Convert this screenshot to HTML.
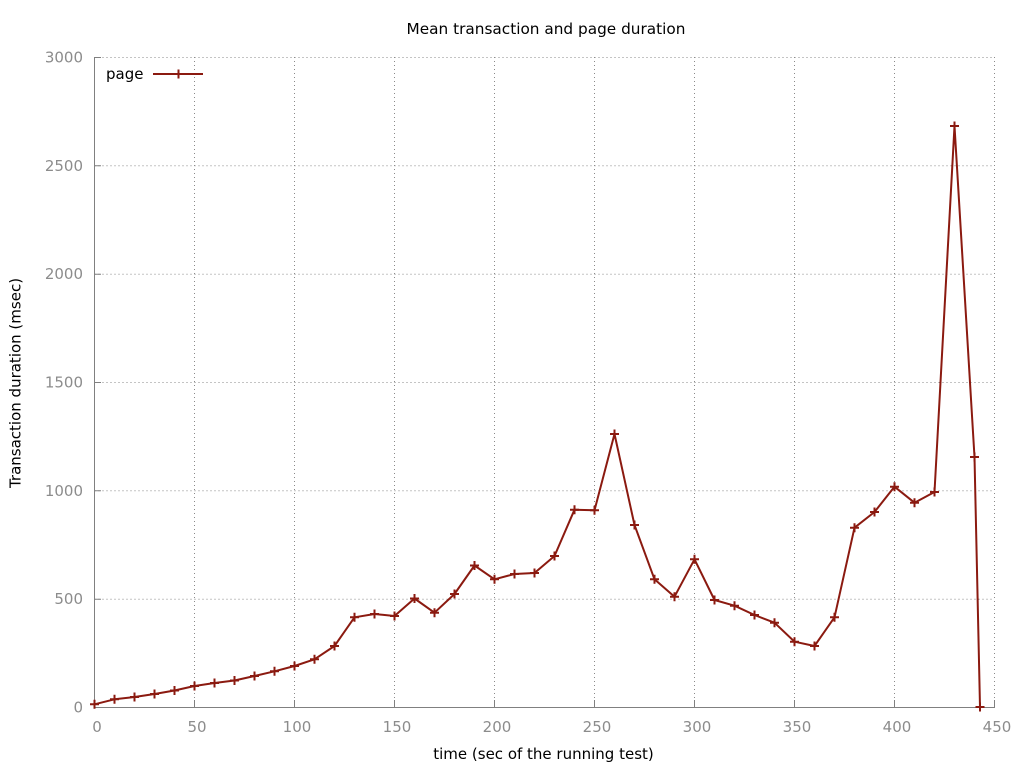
<!DOCTYPE html>
<html>
<head>
<meta charset="utf-8">
<style>
html,body{margin:0;padding:0;background:#fff;}
svg{display:block;}
text{font-family:"DejaVu Sans","Liberation Sans",sans-serif;}
</style>
</head>
<body>
<svg width="1024" height="768" viewBox="0 0 1024 768" xmlns="http://www.w3.org/2000/svg">
<defs>
<marker id="p" markerWidth="12" markerHeight="12" refX="6" refY="6" markerUnits="userSpaceOnUse" overflow="visible">
<path d="M1.5,6h9M6,1.5v9" stroke="#8b1a10" stroke-width="2" fill="none"/>
</marker>
</defs>
<rect width="1024" height="768" fill="#fff"/>
<path fill="none" stroke="#8a8a8a" stroke-width="1" stroke-dasharray="1,3" d="M94.5,57.5H994.5M94.5,165.8H994.5M94.5,274.2H994.5M94.5,382.5H994.5M94.5,490.8H994.5M94.5,599.2H994.5M194.5,57V707M294.5,57V707M394.5,57V707M494.5,57V707M594.5,57V707M694.5,57V707M794.5,57V707M894.5,57V707M994.5,57V707"/>
<path fill="none" stroke="#808080" stroke-width="1" d="M94.5,57V707.5M94,707.5H995M94.5,57.5H101M94.5,165.8H101M94.5,274.2H101M94.5,382.5H101M94.5,490.8H101M94.5,599.2H101M194.5,700V707M294.5,700V707M394.5,700V707M494.5,700V707M594.5,700V707M694.5,700V707M794.5,700V707M894.5,700V707M994.5,700V707"/>
<g fill="#8c8c8c" font-size="15" text-anchor="end">
<text x="83" y="62.5">3000</text>
<text x="83" y="170.8">2500</text>
<text x="83" y="279.2">2000</text>
<text x="83" y="387.5">1500</text>
<text x="83" y="495.8">1000</text>
<text x="83" y="604.2">500</text>
<text x="83" y="712.5">0</text>
</g>
<g fill="#8c8c8c" font-size="15" text-anchor="middle">
<text x="97" y="732">0</text>
<text x="197" y="732">50</text>
<text x="297" y="732">100</text>
<text x="397" y="732">150</text>
<text x="497" y="732">200</text>
<text x="597" y="732">250</text>
<text x="697" y="732">300</text>
<text x="797" y="732">350</text>
<text x="897" y="732">400</text>
<text x="997" y="732">450</text>
</g>
<text x="546" y="34" font-size="15.3" text-anchor="middle" fill="#000">Mean transaction and page duration</text>
<text x="543.5" y="759" font-size="15" text-anchor="middle" fill="#000">time (sec of the running test)</text>
<text transform="translate(20.5,383) rotate(-90)" font-size="15" text-anchor="middle" fill="#000">Transaction duration (msec)</text>
<text x="106" y="79" font-size="15" fill="#000">page</text>
<path d="M153,74H203M174,74h9M178.5,69.5v9" stroke="#8b1a10" stroke-width="2" fill="none"/>
<polyline fill="none" stroke="#8b1a10" stroke-width="2" stroke-linejoin="round" marker-start="url(#p)" marker-mid="url(#p)" marker-end="url(#p)" points="94.5,704.3 114.5,699.3 134.5,697 154.5,694 174.5,690.5 194.5,686 214.5,683 234.5,680.5 254.5,676 274.5,671.3 294.5,666 314.5,659.3 334.5,646 354.5,617.3 374.5,614 394.5,616 414.5,598.5 434.5,612.7 454.5,594 474.5,565.5 494.5,579.3 514.5,574 534.5,573 554.5,556 574.5,509.7 594.5,510.3 614.5,434 634.5,525 654.5,579.3 674.5,596.7 694.5,559.3 714.5,600 734.5,605.7 754.5,615 774.5,622.7 794.5,641.7 814.5,646 834.5,617.3 854.5,527.7 874.5,512 894.5,486.7 914.5,502.7 934.5,492 954.5,126 974.5,457 980,707"/>
</svg>
</body>
</html>
